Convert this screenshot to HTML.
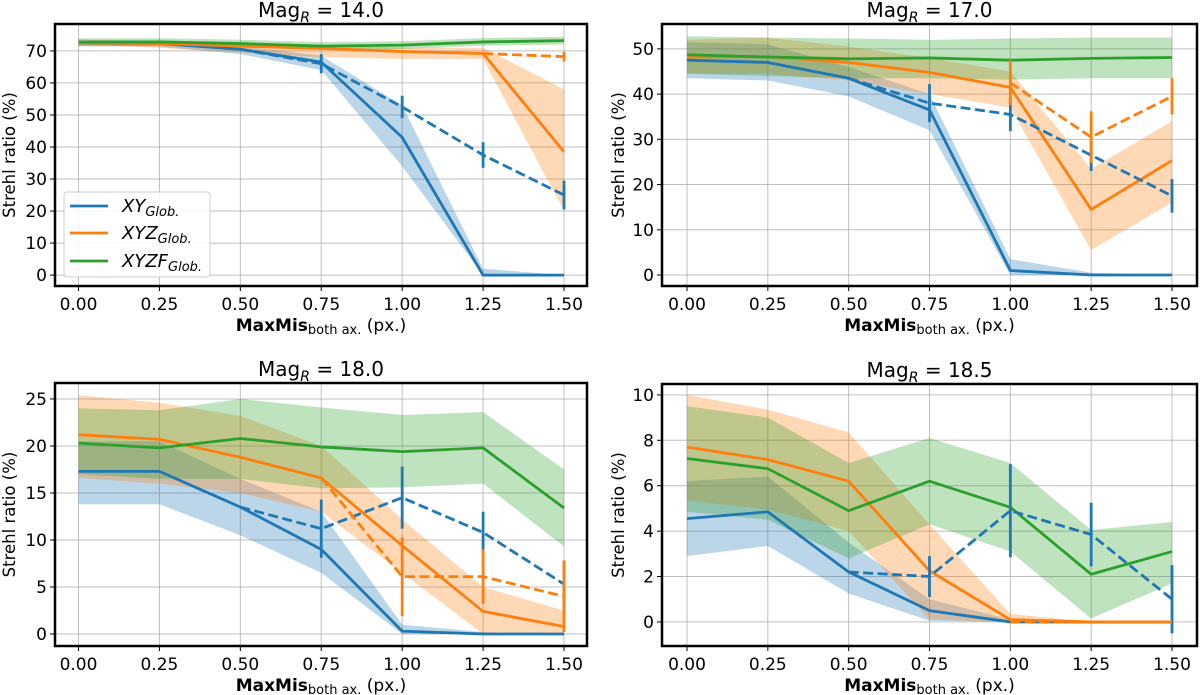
<!DOCTYPE html>
<html><head><meta charset="utf-8"><style>
body{margin:0;background:#fff;}
svg{display:block;font-family:"DejaVu Sans","Liberation Sans",sans-serif;}
</style></head><body>
<svg id="fig" width="1200" height="695" viewBox="0 0 1200 695"></svg>
<script>
const xCats=[0,0.25,0.5,0.75,1.0,1.25,1.5];
const xTickLabels=["0.00","0.25","0.50","0.75","1.00","1.25","1.50"];
// Panel 1 (Mag 14.0)
const p1XY=[72.5,72.3,70.5,66.5,43,0,0];
const p1XYlo=[71.5,71.3,69,64,34,0,0];
const p1XYhi=[73.5,73.2,71.5,68.5,53,2,0];
const p1XYd=[null,null,70.5,66,52.5,37.5,25];
const p1XYderr=[0,0,0,3,3.5,4,4.5];
const p1XYZ=[72.5,72.3,71.5,70.8,69.8,69.2,38.5];
const p1XYZlo=[72,71,69.5,68,67.5,67.5,20];
const p1XYZhi=[73.5,73,72.5,72,71,71,58];
const p1XYZd=[null,null,null,null,null,69.2,68.2];
const p1XYZderr=[0,0,0,0,0,0,1.5];
const p1F=[72.7,72.8,72.3,71.5,71.8,72.8,73.2];
const p1Flo=[71.5,71.6,71.1,70.3,70.6,71.6,72];
const p1Fhi=[73.9,74,73.5,72.7,73,74,74.4];
const p1YTicks=[0,10,20,30,40,50,60,70];
// Panel 2 (Mag 17.0)
const p2XY=[47.5,47,43.5,36.5,1,0,0];
const p2XYlo=[43.5,43,39.5,32,0,0,0];
const p2XYhi=[51.5,51,46,40,3.5,0.5,0];
const p2XYd=[null,null,43.5,38,35.5,26.5,17.5];
const p2XYderr=[0,0,0,4.2,3.7,3.5,3.7];
const p2XYZ=[48.2,48.3,47,44.8,41.5,14.5,25.3];
const p2XYZlo=[44.5,44.5,43,40,37,5.5,16];
const p2XYZhi=[52,52.5,50.5,48,45,23.5,34];
const p2XYZd=[null,null,null,null,42.5,30.5,39.5];
const p2XYZderr=[0,0,0,0,5,5.7,4];
const p2F=[48.7,48.2,47.8,48,47.5,47.9,48.1];
const p2Flo=[44.5,44,43.5,43.5,43.2,43.5,43.5];
const p2Fhi=[52.8,52.5,52.3,52,52.3,52.5,52.5];
const p2YTicks=[0,10,20,30,40,50];
// Panel 3 (Mag 18.0)
const p3XY=[17.3,17.3,13.5,9,0.3,0,0];
const p3XYlo=[13.8,13.8,10.5,6.5,0,0,0];
const p3XYhi=[20.5,20.5,16.5,13,1,0.2,0];
const p3XYd=[null,null,13.5,11.2,14.5,10.8,5.3];
const p3XYderr=[0,0,0,3.1,3.3,2.2,2.5];
const p3XYZ=[21.2,20.7,18.8,16.6,9.4,2.4,0.8];
const p3XYZlo=[16.6,16,15,13,6.5,0,0];
const p3XYZhi=[25.4,24.6,23.2,20,12.2,5,2.5];
const p3XYZd=[null,null,null,16.6,6.1,6.1,4.0];
const p3XYZderr=[0,0,0,0,4.2,2.9,3.8];
const p3F=[20.3,19.8,20.8,19.9,19.4,19.8,13.4];
const p3Flo=[17,16.5,16.5,15.5,15.6,16,9.3];
const p3Fhi=[24,23.8,25,24.1,23.3,23.6,17.5];
const p3YTicks=[0,5,10,15,20,25];
// Panel 4 (Mag 18.5)
const p4XY=[4.55,4.85,2.2,0.5,0,0,0];
const p4XYlo=[2.9,3.35,1.25,0.05,0,0,0];
const p4XYhi=[6.2,6.4,3.5,1.0,0.1,0,0];
const p4XYd=[null,null,2.2,2.0,4.9,3.85,1.0];
const p4XYderr=[0,0,0,0.9,2.05,1.4,1.5];
const p4XYZ=[7.7,7.15,6.2,2.25,0.1,0,0];
const p4XYZlo=[5.35,4.95,4.0,0.1,0,0,0];
const p4XYZhi=[10,9.35,8.35,4.3,0.35,0,0];
const p4XYZd=[null,null,null,null,0,0,0];
const p4XYZderr=[0,0,0,0,0,0,0];
const p4F=[7.2,6.75,4.9,6.2,5.05,2.1,3.1];
const p4Flo=[4.85,4.5,2.8,4.3,3.1,0.15,1.7];
const p4Fhi=[9.5,9.0,7.0,8.1,7.0,4.05,4.4];
const p4YTicks=[0,2,4,6,8,10];

const NS="http://www.w3.org/2000/svg";
const svg=document.getElementById('fig');
function mk(tag,attrs,parent){const e=document.createElementNS(NS,tag);for(const k in attrs)e.setAttribute(k,attrs[k]);(parent||svg).appendChild(e);return e;}
const C={b:"#1f77b4",o:"#ff7f0e",g:"#2ca02c"};

function panel(cfg){
  const g=mk('g',{});
  
  
  const L=cfg.box[0],T=cfg.box[1],R=cfg.box[2],B=cfg.box[3];
  const x0=cfg.x0,x1=cfg.x1;
  const X=v=>x0+(v-0)/(1.5)*(x1-x0);
  const Y=v=>B-(v-cfg.ymin)/(cfg.ymax-cfg.ymin)*(B-T);
  const clip='c'+cfg.name;
  const cp=mk('clipPath',{id:clip},g);mk('rect',{x:L,y:T,width:R-L,height:B-T},cp);
  xCats.forEach((v,i)=>{
    const l=mk('line',{x1:X(v),x2:X(v),y1:T,y2:B,stroke:"#b0b0b0","stroke-width":1,opacity:0.8},g);
    
    mk('line',{x1:X(v),x2:X(v),y1:B,y2:B+5,stroke:"#000","stroke-width":1},g);
    const t=mk('text',{x:X(v),y:B+24,"text-anchor":"middle","font-size":17},g);t.textContent=xTickLabels[i];
    
  });
  cfg.yt.forEach(v=>{
    const l=mk('line',{x1:L,x2:R,y1:Y(v),y2:Y(v),stroke:"#b0b0b0","stroke-width":1,opacity:0.8},g);
    
    mk('line',{x1:L-5,x2:L,y1:Y(v),y2:Y(v),stroke:"#000","stroke-width":1},g);
    const t=mk('text',{x:L-8,y:Y(v)+6,"text-anchor":"end","font-size":17},g);t.textContent=String(v);
    
  });
  const pg=mk('g',{"clip-path":`url(#${clip})`},g);
  function band(lo,hi,col,nm){
    let d="";xCats.forEach((v,i)=>{d+=(i?"L":"M")+X(v)+","+Y(hi[i]);});
    for(let i=xCats.length-1;i>=0;i--)d+="L"+X(xCats[i])+","+Y(lo[i]);
    const p=mk('path',{d:d+"Z",fill:col,"fill-opacity":0.3,stroke:"none"},pg);
    
  }
  function line(vals,col,dash,nm){
    let d="",first=true;vals.forEach((v,i)=>{if(v===null)return;d+=(first?"M":"L")+X(xCats[i])+","+Y(v);first=false;});
    const p=mk('path',{d:d,fill:"none",stroke:col,"stroke-width":2.8,"stroke-dasharray":dash?"10,4.5":"none","stroke-linejoin":"round"},pg);
    
  }
  function err(vals,e,col,nm){
    vals.forEach((v,i)=>{if(v===null||!e[i])return;
      const l=mk('line',{x1:X(xCats[i]),x2:X(xCats[i]),y1:Y(v-e[i]),y2:Y(v+e[i]),stroke:col,"stroke-width":2.8},pg);
      });
  }
  const d=cfg.d;
  band(d.XYlo,d.XYhi,C.b,'xy-band');
  band(d.XYZlo,d.XYZhi,C.o,'xyz-band');
  band(d.Flo,d.Fhi,C.g,'xyzf-band');
  line(d.XY,C.b,false,'xy-line');
  line(d.XYZ,C.o,false,'xyz-line');
  line(d.F,C.g,false,'xyzf-line');
  line(d.XYd,C.b,true,'xy-dashed-line');err(d.XYd,d.XYderr,C.b,'xy-error-bar');
  line(d.XYZd,C.o,true,'xyz-dashed-line');err(d.XYZd,d.XYZderr,C.o,'xyz-error-bar');
  const fr=mk('rect',{x:L,y:T,width:R-L,height:B-T,fill:"none",stroke:"#000","stroke-width":2.5},g);
  
  const tt=mk('text',{x:(L+R)/2,y:T-7,"text-anchor":"middle","font-size":20},g);
  tt.innerHTML='Mag<tspan font-size="14" font-style="italic" dy="5">R</tspan><tspan dy="-5"> = '+cfg.title+'</tspan>';
  
  const xl=mk('text',{x:(L+R)/2,y:B+45,"text-anchor":"middle","font-size":17},g);
  xl.innerHTML='<tspan font-weight="bold">MaxMis</tspan><tspan font-size="13" dy="3">both ax.</tspan><tspan dy="-3"> (px.)</tspan>';
  
  const yl=mk('text',{x:0,y:0,"text-anchor":"middle","font-size":16.5,transform:`translate(${cfg.ylx},${(T+B)/2}) rotate(-90)`},g);
  yl.textContent='Strehl ratio (%)';
  
}
panel({name:'panel-mag-14',title:'14.0',box:[55,24,587,286],x0:78.5,x1:564,ymin:-3.4,ymax:78.4,yt:p1YTicks,ylx:15,
  d:{XY:p1XY,XYlo:p1XYlo,XYhi:p1XYhi,XYd:p1XYd,XYderr:p1XYderr,XYZ:p1XYZ,XYZlo:p1XYZlo,XYZhi:p1XYZhi,XYZd:p1XYZd,XYZderr:p1XYZderr,F:p1F,Flo:p1Flo,Fhi:p1Fhi}});
panel({name:'panel-mag-17',title:'17.0',box:[662,24,1197,286],x0:687,x1:1172,ymin:-2.43,ymax:55.5,yt:p2YTicks,ylx:624,
  d:{XY:p2XY,XYlo:p2XYlo,XYhi:p2XYhi,XYd:p2XYd,XYderr:p2XYderr,XYZ:p2XYZ,XYZlo:p2XYZlo,XYZhi:p2XYZhi,XYZd:p2XYZd,XYZderr:p2XYZderr,F:p2F,Flo:p2Flo,Fhi:p2Fhi}});
panel({name:'panel-mag-18',title:'18.0',box:[55,383,587,646],x0:78.5,x1:564,ymin:-1.28,ymax:26.7,yt:p3YTicks,ylx:15,
  d:{XY:p3XY,XYlo:p3XYlo,XYhi:p3XYhi,XYd:p3XYd,XYderr:p3XYderr,XYZ:p3XYZ,XYZlo:p3XYZlo,XYZhi:p3XYZhi,XYZd:p3XYZd,XYZderr:p3XYZderr,F:p3F,Flo:p3Flo,Fhi:p3Fhi}});
panel({name:'panel-mag-18-5',title:'18.5',box:[662,384,1197,646],x0:687,x1:1172,ymin:-1.06,ymax:10.48,yt:p4YTicks,ylx:624,
  d:{XY:p4XY,XYlo:p4XYlo,XYhi:p4XYhi,XYd:p4XYd,XYderr:p4XYderr,XYZ:p4XYZ,XYZlo:p4XYZlo,XYZhi:p4XYZhi,XYZd:p4XYZd,XYZderr:p4XYZderr,F:p4F,Flo:p4Flo,Fhi:p4Fhi}});

const lg=mk('g',{});


mk('rect',{x:64,y:192,width:146,height:85,rx:3,fill:"#fff","fill-opacity":0.85,stroke:"#ccc","stroke-width":1},lg);
[["XY",C.b,206],["XYZ",C.o,233],["XYZF",C.g,261]].forEach(e=>{
  const row=mk('g',{},lg);
  
  
  mk('line',{x1:70,x2:108,y1:e[2],y2:e[2],stroke:e[1],"stroke-width":2.8},row);
  const t=mk('text',{x:122,y:e[2]+6,"font-size":18,"font-style":"italic"},row);
  t.innerHTML=e[0]+'<tspan font-size="13" dy="4">Glob.</tspan>';
});
</script>
</body></html>
